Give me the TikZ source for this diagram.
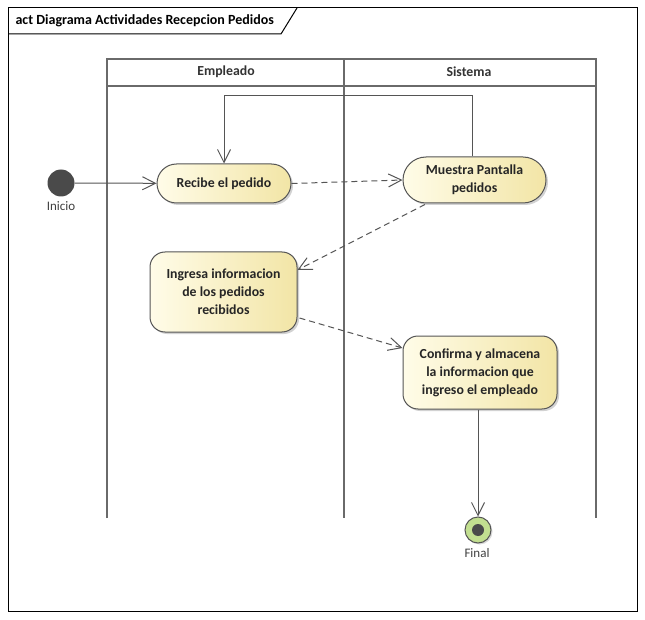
\documentclass[tikz,border=0pt]{standalone}
\usepackage{fontspec}
\setmainfont{Carlito}
\usetikzlibrary{arrows.meta,shapes.misc,shadows,calc}
\definecolor{edgegray}{HTML}{555555}
\definecolor{lanegray}{HTML}{6A6A6A}
\definecolor{actleft}{HTML}{FFFCE8}
\definecolor{actright}{HTML}{F2E5A6}
\definecolor{finalgreen}{HTML}{C2DF90}
\definecolor{startgray}{HTML}{4A4A4A}
\tikzset{
  x=1pt, y=-1pt,
  actbox/.style={draw=edgegray, line width=1pt, left color=actleft, right color=actright,
    font=\fontsize{13.8}{18}\selectfont\bfseries, text=black!85, align=center,
    drop shadow={shadow xshift=2pt, shadow yshift=-2pt, opacity=0.35, fill=black!50}},
  roundact/.style={actbox, rounded rectangle, inner sep=0pt},
  boxact/.style={actbox, rectangle, rounded corners=15pt, inner sep=0pt},
  flow/.style={draw=edgegray, line width=1pt, -{Straight Barb[length=13pt,width=13pt]}},
  objflow/.style={flow, dash pattern=on 6pt off 4pt},
  lane/.style={draw=lanegray, line width=1.6pt},
  lanehead/.style={font=\fontsize{13.8}{16}\selectfont\bfseries, text=black!80},
  lbl/.style={font=\fontsize{13}{15}\selectfont, text=black!75},
}
\begin{document}
\begin{tikzpicture}
\useasboundingbox (0,0) rectangle (645,620);
\fill[white] (0,0) rectangle (645,620);

% diagram frame with title tab
\draw[black, line width=1pt] (8,8) rectangle (637,611);
\draw[black, line width=1pt] (8,34) -- (281,34) -- (297,8);
\node[anchor=west, font=\fontsize{14}{16}\selectfont\bfseries] (title) at (12,21) {act Diagrama Actividades Recepcion Pedidos};

% swimlanes
\draw[lane] (107,518) -- (107,59) -- (596,59) -- (596,518);
\draw[lane] (107,86) -- (596,86);
\draw[lane] (344,59) -- (344,518);
\node[lanehead] (lane1) at (226,72) {Empleado};
\node[lanehead] (lane2) at (469,72) {Sistema};

% initial and final nodes
\node[circle, fill=startgray, minimum size=27pt, inner sep=0pt] (inicio) at (61,183) {};
\node[lbl] (inicioL) at (61,206) {Inicio};
\node[circle, draw=edgegray, line width=1pt, fill=finalgreen, minimum size=26pt, inner sep=0pt,
  drop shadow={shadow xshift=1.5pt, shadow yshift=-1.5pt, opacity=0.3, fill=black!50}] (final) at (478,530) {};
\node[circle, fill=startgray, minimum size=12pt, inner sep=0pt] (finalDot) at (478,530) {};
\node[lbl] (finalL) at (477,553) {Final};

% actions
\node[roundact, minimum width=134pt, minimum height=39pt] (recibe) at (224,183.5) {Recibe el pedido};
\node[roundact, minimum width=143pt, minimum height=46pt] (muestra) at (474.5,180) {Muestra Pantalla\\pedidos};
\node[boxact, minimum width=147pt, minimum height=80pt] (ingresa) at (223.5,292) {Ingresa informacion\\de los pedidos\\recibidos};
\node[boxact, minimum width=154pt, minimum height=73pt] (confirma) at (480,372.5) {Confirma y almacena\\la informacion que\\ingreso el empleado};

% control and object flows
\coordinate (loopR) at (472,96);
\coordinate (loopL) at (224,96);
\draw[flow] (inicio) -- (recibe);
\draw[objflow] (recibe.east) -- (muestra.west);
\draw[flow] (muestra.north -| loopR) -- (loopR) -- (loopL) -- (recibe.north);
\draw[objflow] ($(muestra.south)+(-49.5,1)$) -- ($(ingresa.east)+(0,-22)$);
\draw[objflow] ($(ingresa.east)+(2,26)$) -- ($(confirma.west)+(0,-24.5)$);
\draw[flow] (confirma.south -| final) -- (final.north);
\end{tikzpicture}
\end{document}
